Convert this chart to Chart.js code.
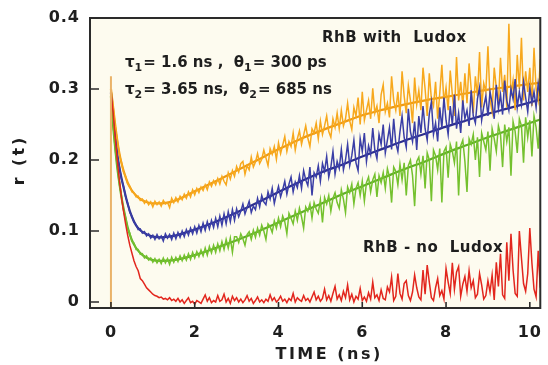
<!DOCTYPE html>
<html>
<head>
<meta charset="utf-8">
<script src="https://cdn.jsdelivr.net/npm/chart.js@4.4.1/dist/chart.umd.min.js"></script>
<style>
  html, body { margin: 0; padding: 0; background: #ffffff; }
  canvas { display: block; }
</style>
</head>
<body>
<canvas id="anisoChart" width="548" height="365"></canvas>
<script>
// anisotropy decay r(t) of RhB, values in thousandths (r * 1000)
// measured channels are 0.05 ns apart, starting at t = 0
const channelWidth = 0.05;

const redR = [
  295, 268, 232, 200, 172, 148, 128, 110, 94, 80,     // 0.00-0.45
  69, 58, 50, 44, 33, 30, 25, 20, 17, 14,             // 0.50-0.95
  11, 9, 8, 6, 7, 4, 5, 3, 6, 2,                      // 1.00-1.45
  4, 1, 5, 0, 3, -2, 2, 6, -1, 1,                     // 1.50-1.95
  -3, 2, 0, -2, 4, 10, 1, 6, -1, 2,                   // 2.00-2.45
  0, 9, 1, 3, 11, 0, 5, -2, 8, 2,                     // 2.50-2.95
  6, 0, 4, -1, 3, 9, 1, 5, -2, 2,                     // 3.00-3.45
  7, 0, 3, -1, 4, 1, 10, 2, 6, 0,                     // 3.50-3.95
  3, 8, 1, 4, -1, 5, 2, 12, 0, 6,                     // 4.00-4.45
  3, 1, 9, 2, 5, 0, 7, 14, 3, 8,                      // 4.50-4.95
  1, 5, 18, 3, 9, 1, 12, 22, 4, 10,                   // 5.00-5.45
  2, 15, 6, 24, 3, 11, 0, 8, 4, 19,                   // 5.50-5.95
  2, 7, 1, 13, 4, 28, 6, 10, 2, 17,                   // 6.00-6.45
  5, 3, 21, 14, 35, 2, 8, 40, 12, 4,                  // 6.50-6.95
  26, 30, 9, 2, 14, 38, 20, 7, 3, 45,                 // 7.00-7.45
  11, 52, 28, 6, 2, 20, 33, 9, 16, 4,                 // 7.50-7.95
  47, 28, 12, 55, 18, 42, 50, 8, 25, 36,              // 8.00-8.45
  15, 44, 20, 30, 6, 11, 40, 24, 4, 9,                // 8.50-8.95
  30, 14, 38, 3, 56, 22, 68, 10, 5, 84,               // 9.00-9.45
  30, 96, 45, 12, 8, 100, 62, 26, 15, 40,             // 9.50-9.95
  104, 55, 18, 7, 72, 20                              // 10.00-10.25
];

const greenR = [
  290, 252, 216, 192, 166, 150, 130, 119, 103, 97,
  85, 83, 74, 74, 67, 68, 62, 65, 59, 62,
  56, 61, 55, 60, 54, 62, 55, 61, 53, 63,
  56, 63, 57, 65, 58, 66, 59, 68, 60, 70,
  62, 71, 64, 73, 65, 76, 66, 78, 69, 80,
  70, 82, 72, 85, 74, 88, 76, 90, 70, 92,
  92, 84, 96, 89, 80, 95, 99, 88, 101, 91,
  104, 94, 108, 100, 88, 110, 106, 98, 114, 104,
  118, 106, 121, 113, 96, 125, 118, 110, 128, 115,
  132, 120, 104, 134, 128, 138, 118, 140, 131, 125,
  144, 112, 147, 138, 150, 128, 146, 154, 140, 132,
  158, 145, 126, 162, 154, 166, 138, 160, 168, 150,
  170, 142, 168, 176, 155, 172, 180, 148, 178, 168,
  182, 160, 188, 176, 140, 190, 184, 165, 194, 172,
  196, 150, 192, 200, 178, 135, 198, 204, 180, 206,
  160, 210, 200, 142, 214, 206, 186, 216, 140, 212,
  218, 175, 222, 212, 196, 226, 150, 220, 228, 198,
  155, 230, 222, 236, 200, 232, 176, 238, 226, 214,
  240, 185, 244, 230, 212, 248, 236, 190, 250, 226,
  246, 178, 254, 240, 210, 258, 248, 196, 260, 232,
  256, 205, 262, 246, 216, 264
];

const blueR = [
  295, 260, 232, 206, 191, 173, 163, 148, 139, 126,
  121, 112, 109, 102, 103, 97, 99, 93, 96, 90,
  94, 88, 95, 89, 93, 86, 96, 90, 95, 88,
  97, 89, 98, 91, 100, 92, 102, 94, 104, 96,
  106, 97, 108, 99, 111, 101, 113, 103, 115, 105,
  118, 106, 121, 108, 124, 110, 127, 113, 130, 115,
  131, 120, 128, 138, 124, 133, 142, 126, 135, 130,
  146, 134, 150, 141, 137, 155, 145, 160, 139, 152,
  163, 148, 158, 170, 152, 166, 176, 155, 169, 161,
  178, 160, 185, 172, 164, 190, 150, 182, 176, 192,
  170, 195, 184, 205, 176, 190, 212, 180, 198, 188,
  215, 186, 200, 222, 192, 206, 228, 196, 185, 230,
  212, 238, 198, 220, 208, 245, 214, 202, 236, 222,
  250, 210, 228, 246, 215, 258, 224, 212, 240, 262,
  232, 218, 272, 240, 226, 254, 214, 262, 238, 276,
  244, 228, 265, 282, 236, 252, 226, 274, 245, 288,
  256, 236, 276, 250, 292, 244, 266, 238, 284, 258,
  270, 248, 298, 262, 252, 286, 302, 256, 275, 290,
  262, 296, 280, 258, 306, 272, 292, 264, 312, 284,
  270, 300, 286, 314, 274, 296, 278, 310, 288, 268,
  302, 280, 296, 274, 308, 290
];

const orangeR = [
  300, 277, 248, 229, 208, 197, 183, 177, 166, 163,
  155, 154, 148, 149, 143, 145, 139, 143, 137, 141,
  134, 142, 137, 141, 135, 143, 138, 140, 133, 146,
  140, 147, 141, 149, 144, 152, 146, 155, 148, 158,
  151, 160, 154, 162, 157, 165, 158, 169, 163, 171,
  165, 174, 166, 177, 170, 165, 182, 173, 185, 177,
  191, 183, 195, 198, 180, 192, 186, 204, 190, 197,
  209, 195, 201, 214, 203, 192, 216, 208, 219, 201,
  224, 209, 221, 233, 212, 226, 219, 238, 214, 230,
  241, 222, 235, 248, 231, 219, 244, 238, 252, 230,
  255, 236, 248, 262, 240, 232, 258, 246, 266, 244,
  270, 248, 258, 280, 255, 243, 274, 262, 288, 250,
  296, 256, 270, 284, 258, 301, 266, 276, 252, 292,
  306, 268, 280, 260, 318, 284, 270, 296, 262, 325,
  290, 266, 305, 284, 252, 316, 278, 298, 270, 330,
  300, 262, 322, 286, 276, 310, 258, 294, 334, 280,
  302, 270, 326, 292, 262, 345, 284, 310, 276, 322,
  280, 336, 300, 266, 318, 290, 352, 274, 308, 296,
  360, 285, 268, 330, 302, 278, 344, 296, 320, 274,
  392, 290, 312, 270, 348, 300, 372, 284, 325, 296,
  330, 276, 358, 300, 284, 342
];

// fitted curves (two-exponential model), thousandths
const fitTime = [0, 0.05, 0.1, 0.15, 0.2, 0.25, 0.3, 0.4, 0.5, 0.6, 0.7, 0.8, 1.0, 1.2, 1.5,
  2.0, 2.5, 3.0, 3.5, 4.0, 4.5, 5.0, 5.5, 6.0, 6.5, 7.0, 7.5, 8.0, 8.5, 9.0, 9.5, 10.0, 10.25];
const orangeFit = [300, 275, 250, 228, 210, 196, 185, 168, 157, 150, 145, 142, 139, 139, 142,
  156, 170, 185, 200, 215, 229, 241, 252, 263, 271, 278, 284, 289, 294, 299, 303, 307, 309];
const blueFit = [295, 262, 230, 208, 190, 175, 162, 138, 120, 108, 101, 97, 92, 91, 93,
  102, 113, 126, 140, 155, 169, 182, 193, 205, 216, 227, 237, 247, 256, 265, 273, 281, 285];
const greenFit = [290, 250, 218, 190, 168, 148, 132, 105, 87, 76, 69, 64, 59, 58, 59,
  66, 76, 87, 99, 112, 125, 138, 151, 163, 175, 187, 198, 210, 221, 232, 242, 252, 257];

// excitation spike at t = 0
const spikeTime = [0, 0];
const spikeR = [-8.5, 318];

const xTicks = [0, 2, 4, 6, 8, 10];
const yTicks = [0, 0.1, 0.2, 0.3, 0.4];
const yTickLabels = ["0", "0.1", "0.2", "0.3", "0.4"];

const FONT = "'DejaVu Sans', sans-serif";
Chart.defaults.font.family = FONT;

function channelPoints(values) {
  return values.map((v, i) => ({ x: i * channelWidth, y: v / 1000 }));
}
function pairPoints(ts, values) {
  return ts.map((t, i) => ({ x: t, y: values[i] / 1000 }));
}

function noisy(label, values, color) {
  return {
    label: label,
    data: channelPoints(values),
    borderColor: color,
    borderWidth: 1.5,
    pointRadius: 0,
    tension: 0,
  };
}
function fitted(label, values, color) {
  return {
    label: label,
    data: pairPoints(fitTime, values),
    borderColor: color,
    borderWidth: 2.2,
    pointRadius: 0,
    cubicInterpolationMode: "monotone",
  };
}

// draws the cream plot area, the frame, inward ticks and the text labels
const decorations = {
  id: "decorations",
  beforeDraw(chart) {
    const { ctx, chartArea: a } = chart;
    ctx.save();
    ctx.fillStyle = "#fdfbef";
    ctx.fillRect(a.left, a.top, a.right - a.left, a.bottom - a.top);
    ctx.restore();
    ctx.letterSpacing = "1px";
  },
  afterDatasetsDraw(chart) {
    const { ctx, chartArea: a, scales } = chart;
    ctx.save();
    ctx.strokeStyle = "#2b2b2b";
    ctx.lineWidth = 2;
    ctx.strokeRect(a.left, a.top, a.right - a.left, a.bottom - a.top);
    ctx.lineWidth = 1.6;
    ctx.beginPath();
    yTicks.forEach(v => {
      const y = scales.y.getPixelForValue(v);
      ctx.moveTo(a.left, y);
      ctx.lineTo(a.left + 9, y);
    });
    xTicks.forEach(v => {
      const x = scales.x.getPixelForValue(v);
      ctx.moveTo(x, a.bottom);
      ctx.lineTo(x, a.bottom - 6);
    });
    ctx.stroke();

    ctx.fillStyle = "#1e1e1e";
    ctx.textBaseline = "middle";

    // axis titles
    ctx.font = "bold 16px " + FONT;
    ctx.letterSpacing = "2.5px";
    ctx.textAlign = "center";
    ctx.fillText("TIME (ns)", (a.left + a.right) / 2 + 14, 355);
    ctx.save();
    ctx.translate(20, 160);
    ctx.rotate(-Math.PI / 2);
    ctx.letterSpacing = "3px";
    ctx.fillText("r (t)", 0, 0);
    ctx.restore();

    // annotations
    ctx.textAlign = "left";
    ctx.letterSpacing = "0.5px";
    ctx.font = "bold 15px " + FONT;
    ctx.fillText("RhB with  Ludox", 322, 38);
    ctx.fillText("RhB - no  Ludox", 363, 248);

    ctx.letterSpacing = "0px";
    drawRich(ctx, [["τ"], ["1", 1], ["= 1.6 ns ,  "], ["θ"], ["1", 1], ["= 300 ps"]], 125, 63);
    drawRich(ctx, [["τ"], ["2", 1], ["= 3.65 ns,  "], ["θ"], ["2", 1], ["= 685 ns"]], 125, 90);
    ctx.restore();
  },
};

function drawRich(ctx, parts, x, y) {
  let cx = x;
  parts.forEach(([s, sub]) => {
    ctx.font = sub ? "bold 11px " + FONT : "bold 15px " + FONT;
    ctx.fillText(s, cx, sub ? y + 5 : y);
    cx += ctx.measureText(s).width + (sub ? 1 : 0);
  });
}

new Chart(document.getElementById("anisoChart"), {
  type: "line",
  data: {
    datasets: [
      {
        label: "spike",
        data: pairPoints(spikeTime, spikeR),
        borderColor: "#eab36a",
        borderWidth: 2,
        pointRadius: 0,
      },
      noisy("RhB - no Ludox", redR, "#e2261d"),
      noisy("RhB with Ludox (green)", greenR, "#74c12e"),
      noisy("RhB with Ludox (blue)", blueR, "#3a3ea6"),
      noisy("RhB with Ludox (orange)", orangeR, "#f7a81d"),
      fitted("fit green", greenFit, "#5fae27"),
      fitted("fit blue", blueFit, "#2c2d8c"),
      fitted("fit orange", orangeFit, "#ef9a12"),
    ],
  },
  options: {
    responsive: false,
    animation: false,
    devicePixelRatio: 1,
    layout: { padding: { top: 18, right: 2, left: 0, bottom: 0 } },
    plugins: {
      legend: { display: false },
      tooltip: { enabled: false },
    },
    scales: {
      x: {
        type: "linear",
        min: -0.5,
        max: 10.25,
        grid: { display: false },
        border: { display: false },
        afterBuildTicks: s => { s.ticks = xTicks.map(v => ({ value: v })); },
        afterFit: s => { s.height = 57; },
        ticks: {
          padding: 7,
          color: "#1e1e1e",
          font: { size: 16, weight: "bold" },
          maxRotation: 0,
        },
      },
      y: {
        min: -0.0085,
        max: 0.4,
        grid: { display: false },
        border: { display: false },
        afterBuildTicks: s => { s.ticks = yTicks.map(v => ({ value: v })); },
        afterFit: s => { s.width = 90; },
        ticks: {
          padding: 2,
          color: "#1e1e1e",
          font: { size: 16, weight: "bold" },
          callback: v => yTickLabels[yTicks.indexOf(v)],
        },
      },
    },
  },
  plugins: [decorations],
});
</script>
</body>
</html>
